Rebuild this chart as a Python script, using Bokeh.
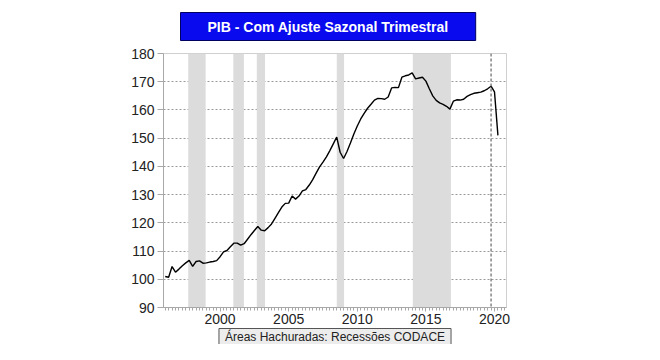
from bokeh.plotting import figure
from bokeh.models import Range1d, FixedTicker, Span, Title
from bokeh.embed import file_html
from bokeh.resources import INLINE

# Quarterly GDP index, seasonally adjusted (1996Q1 .. 2020Q2)
start_year = 1996
pib = [101.0, 100.7, 104.5, 102.5, 103.6, 104.8, 105.8, 106.7,
       104.6, 106.3, 106.5, 105.7, 105.8, 106.1, 106.3, 106.6,
       108.0, 109.7, 110.2, 111.5, 112.8, 112.8, 112.1, 112.6,
       114.2, 115.8, 117.3, 118.7, 117.4, 117.2, 118.3, 119.6,
       121.6, 123.6, 125.6, 126.9, 127.0, 129.5, 128.4, 129.5,
       131.3, 131.8, 133.4, 135.3, 137.6, 139.8, 141.5, 143.4,
       145.6, 148.0, 150.4, 145.0, 142.8, 145.3, 148.3, 151.5,
       154.3, 156.8, 158.8, 160.6, 162.0, 163.5, 164.1, 164.0,
       163.8, 164.6, 167.8, 168.0, 167.9, 171.6, 172.1, 172.4,
       173.1, 171.0, 171.3, 171.6, 170.2, 167.5, 165.0, 163.4,
       162.5, 162.0, 161.3, 160.3, 163.1, 163.6, 163.5, 163.8,
       164.8, 165.4, 165.9, 166.1, 166.3, 166.8, 167.5, 168.4,
       166.4, 151.0]

# CODACE recessions (shaded areas, in years)
rec_start = [1997.8, 2001.09, 2002.8, 2008.63, 2014.17]
rec_end = [1999.07, 2001.86, 2003.4, 2009.16, 2016.95]

year_labels = ["2000", "2005", "2010", "2015", "2020"]
y_ticks = [90, 100, 110, 120, 130, 140, 150, 160, 170, 180]
marker_date = 2019.875

title_text = "PIB - Com Ajuste Sazonal Trimestral"
note_text = "Áreas Hachuradas: Recessões CODACE"

x = [start_year + i / 4 + 0.125 for i in range(len(pib))]

FONT = "Liberation Sans"

p = figure(width=644, height=344, output_backend="svg", toolbar_location=None,
           x_range=Range1d(1996, 2021), y_range=Range1d(90, 180),
           min_border_left=163, min_border_right=138,
           min_border_top=53, min_border_bottom=36)
p.background_fill_color = "white"
p.border_fill_color = "white"
p.outline_line_color = "#cfcfcf"
p.outline_line_width = 1

# title box (padding order: left, right, top, bottom)
p.title = Title(text=title_text, align="left", offset=17, standoff=22,
                vertical_align="top",
                text_color="white", text_font=FONT, text_font_size="14px",
                text_font_style="bold", background_fill_color="#0a0aee",
                border_line_color="#000060", border_line_width=1,
                padding=(27, 27, 6, 6))

# recession shading
p.quad(left=rec_start, right=rec_end, bottom=90, top=180,
       fill_color="#dcdcdc", line_color=None)

# grid
p.xgrid.grid_line_color = None
p.ygrid.ticker = FixedTicker(ticks=y_ticks[1:-1])
p.ygrid.grid_line_color = "#9a9a9a"
p.ygrid.grid_line_dash = "2 2"
p.ygrid.grid_line_width = 1

# vertical marker line
p.add_layout(Span(location=marker_date, dimension="height", line_color="#666666",
                  line_dash="3 2", line_width=1.2))

# series line
p.line(x, pib, line_color="black", line_width=1.4)

# y axis
yax = p.yaxis[0]
yax.ticker = FixedTicker(ticks=y_ticks)
yax.axis_line_color = "#a8a8a8"
yax.major_tick_line_color = "#a8a8a8"
yax.major_tick_out = 6
yax.major_tick_in = 0
yax.minor_tick_line_color = None
yax.major_label_text_font = FONT
yax.major_label_text_font_size = "14px"
yax.major_label_text_color = "#222222"
yax.major_label_standoff = 3

# x axis
xax = p.xaxis[0]
major_x = [int(s) + 0.125 for s in year_labels]
xax.ticker = FixedTicker(ticks=major_x,
                         minor_ticks=[start_year + i / 4 + 0.125 for i in range(100)])
xax.major_label_overrides = {m: s for m, s in zip(major_x, year_labels)}
xax.axis_line_color = "#a8a8a8"
xax.major_tick_line_color = "#a8a8a8"
xax.minor_tick_line_color = "#a8a8a8"
xax.major_tick_out = 4
xax.major_tick_in = 0
xax.minor_tick_out = 3
xax.minor_tick_in = 0
xax.major_label_text_font = FONT
xax.major_label_text_font_size = "14px"
xax.major_label_text_color = "#222222"
xax.major_label_standoff = 2

# note box below the axis
p.add_layout(Title(text=note_text, align="center", standoff=0,
                   text_color="#222222", text_font=FONT, text_font_size="12px",
                   text_font_style="normal", background_fill_color="#ececec",
                   border_line_color="#555555", border_line_width=1,
                   padding=(6, 6, 1, 1)), "below")

open("out.html", "w").write(file_html(p, INLINE))
